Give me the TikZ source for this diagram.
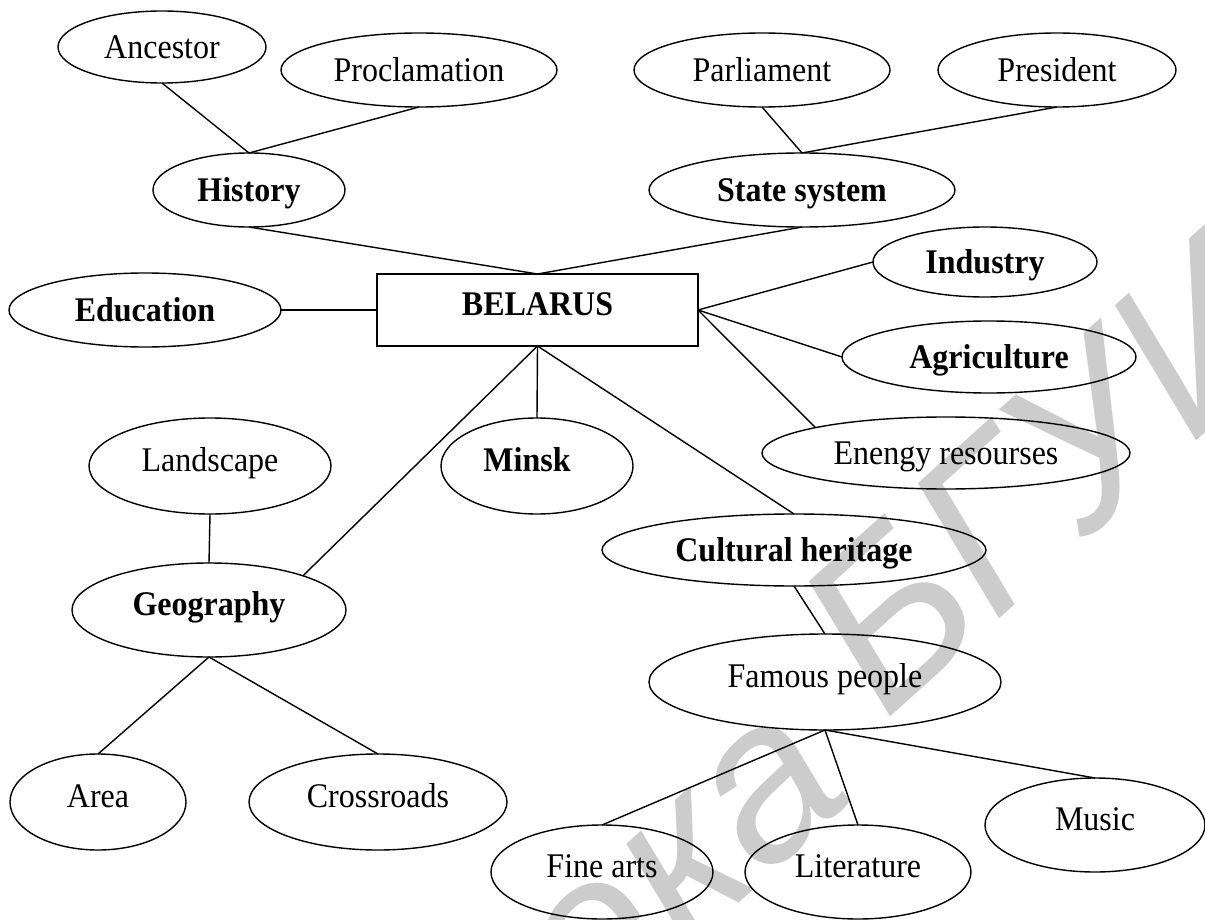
\documentclass[tikz,border=0pt]{standalone}
\usepackage{fontspec}
\setmainfont{Liberation Serif}
\newfontfamily\wmfont{Liberation Sans}
\usetikzlibrary{shapes.geometric}
\definecolor{wmgray}{RGB}{204,204,204}
\newcommand\labelfont{\fontsize{32}{36}\selectfont}
\newcommand\lbl[1]{\scalebox{1}[1.08]{#1}}
\newcommand\lblup[1]{\raisebox{6pt}{\lbl{#1}}}
\tikzset{
  term/.style={ellipse, draw, line width=1.4pt, inner sep=0pt, outer sep=0pt,
    font=\labelfont, text height=22.9pt, text depth=0pt},
  keyterm/.style={term, font=\labelfont\bfseries},
  hub/.style={rectangle, draw, line width=1.4pt, inner sep=0pt, outer sep=0pt,
    font=\labelfont\bfseries, text height=22.9pt, text depth=0pt,
    minimum width=321pt, minimum height=72pt},
  link/.style={line width=1.4pt},
  wm/.style={rotate=42, text=wmgray, font=\wmfont\itshape\fontsize{225}{225}\selectfont, inner sep=0pt}
}
\begin{document}
\begin{tikzpicture}[x=1pt,y=-1pt]
\useasboundingbox (0,0) rectangle (1205,920);
\fill[white] (0,0) rectangle (1205,920);

% background stamp
\begin{scope}
\clip (0,0) rectangle (1205,920);
\node[wm, anchor=base west] (wmb) at (885,722) {БГУИР};
\node[wm, anchor=base east] (wma) at (858,796) {Библиотека};
\end{scope}

% nodes
\node[term, minimum width=208pt, minimum height=72pt] (anc) at (162,47) {\lbl{Ancestor}};
\node[term, minimum width=276pt, minimum height=74pt] (proc) at (419,70) {\lbl{Proclamation}};
\node[term, minimum width=256pt, minimum height=74pt] (parl) at (762,70) {\lbl{Parliament}};
\node[term, minimum width=238pt, minimum height=74pt] (pres) at (1057,70) {\lbl{President}};
\node[keyterm, minimum width=192pt, minimum height=74pt] (hist) at (249,190) {\lbl{History}};
\node[keyterm, minimum width=306pt, minimum height=74pt] (state) at (802,190) {\lbl{State system}};
\node[hub] (bel) at (537.5,310) {\raisebox{5.5pt}{\lbl{BELARUS}}};
\node[keyterm, minimum width=272pt, minimum height=74pt] (edu) at (145,310) {\lbl{Education}};
\node[keyterm, minimum width=224pt, minimum height=70pt] (ind) at (985,262) {\lbl{Industry}};
\node[keyterm, minimum width=294pt, minimum height=72pt] (agr) at (989,357) {\lbl{Agriculture}};
\node[term, minimum width=368pt, minimum height=72pt] (ene) at (946,453) {\lbl{Enengy resourses}};
\node[keyterm, minimum width=192pt, minimum height=96pt] (minsk) at (537,466) {\lblup{Minsk}\hspace*{20pt}};
\node[term, minimum width=242pt, minimum height=96pt] (land) at (210,466) {\lblup{Landscape}};
\node[keyterm, minimum width=274pt, minimum height=94pt] (geo) at (209,610) {\lblup{Geography}};
\node[keyterm, minimum width=384pt, minimum height=72pt] (cult) at (794,550) {\lbl{Cultural heritage}};
\node[term, minimum width=352pt, minimum height=96pt] (fam) at (825,682) {\lblup{Famous people}};
\node[term, minimum width=176pt, minimum height=96pt] (area) at (98,802) {\lblup{Area}};
\node[term, minimum width=258pt, minimum height=96pt] (cross) at (378,802) {\lblup{Crossroads}};
\node[term, minimum width=222pt, minimum height=94pt] (fine) at (602,872) {\lblup{Fine arts}};
\node[term, minimum width=226pt, minimum height=94pt] (lit) at (858,872) {\lblup{Literature}};
\node[term, minimum width=220pt, minimum height=94pt] (music) at (1095,825) {\lblup{Music}};

% connectors
\draw[link] (anc.south) -- (hist.north);
\draw[link] (proc.south) -- (hist.north);
\draw[link] (parl.south) -- (state.north);
\draw[link] (pres.south) -- (state.north);
\draw[link] (hist.south) -- (bel.north);
\draw[link] (state.south) -- (bel.north);
\draw[link] (edu.east) -- (bel.west);
\draw[link] (bel.east) -- (ind.west);
\draw[link] (bel.east) -- (agr.west);
\draw[link] (bel.east) -- (ene.169);
\draw[link] (bel.south) -- (minsk.north);
\draw[link] (bel.south) -- (geo.20);
\draw[link] (bel.south) -- (cult.north);
\draw[link] (land.south) -- (geo.north);
\draw[link] (geo.south) -- (area.north);
\draw[link] (geo.south) -- (cross.north);
\draw[link] (cult.south) -- (fam.north);
\draw[link] (fam.south) -- (fine.north);
\draw[link] (fam.south) -- (lit.north);
\draw[link] (fam.south) -- (music.north);
\end{tikzpicture}
\end{document}
